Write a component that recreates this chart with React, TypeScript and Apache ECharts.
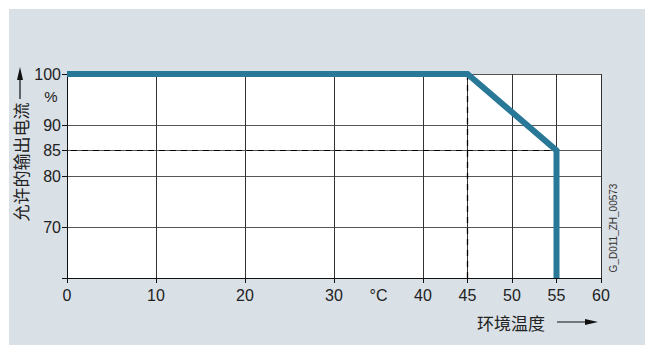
import React, { useEffect, useRef } from "react";
import * as echarts from "echarts";

const curveX = [0, 45, 55, 55];
const curveY = [100, 100, 85, 60];
const xTickValues = [0, 10, 20, 30, 40, 45, 50, 55, 60];
const xLabelValues = [0, 10, 20, 30, 35, 40, 45, 50, 55, 60];
const unitLabelAt = 35;
const yLabelValues = [70, 80, 85, 90, 100];
const yTickValues = [60, 70, 80, 85, 90, 100];
const guideVertical = [[45, 100], [45, 60]];
const guideHorizontal = [[-0.8, 85], [55, 85]];
const yTitle = "允许的输出电流";
const xTitle = "环境温度";
const docId = "G_D011_ZH_00573";

const FONT = "'Liberation Sans', Arial, sans-serif";
const CJK = "'Noto Sans CJK SC', sans-serif";

export default function App() {
  const ref = useRef<HTMLDivElement>(null);
  useEffect(() => {
    const chart = echarts.init(ref.current!, null, { renderer: "svg" });
    chart.setOption({
      animation: false,
      backgroundColor: "#ffffff",
      graphic: [
        { type: "rect", z: -10, shape: { x: 9, y: 9, width: 640, height: 340 }, style: { fill: "#d9e0e6" } },
        { type: "rect", z: -9, shape: { x: 67, y: 74, width: 534, height: 204 }, style: { fill: "#ffffff" } },
        { type: "text", x: 51, y: 96, style: { text: "%", font: `15px ${FONT}`, fill: "#222", textAlign: "center", textVerticalAlign: "middle" } },
        { type: "text", x: 20, y: 162, rotation: Math.PI / 2, style: { text: yTitle, font: `17px ${CJK}`, fill: "#222", textAlign: "center", textVerticalAlign: "middle" } },
        { type: "line", shape: { x1: 20, y1: 99, x2: 20, y2: 76 }, style: { stroke: "#111", lineWidth: 1.2 } },
        { type: "polygon", shape: { points: [[17, 80], [23, 80], [20, 67]] }, style: { fill: "#111" } },
        { type: "text", x: 511, y: 322, style: { text: xTitle, font: `17px ${CJK}`, fill: "#222", textAlign: "center", textVerticalAlign: "middle" } },
        { type: "line", shape: { x1: 557, y1: 322, x2: 590, y2: 322 }, style: { stroke: "#111", lineWidth: 1.2 } },
        { type: "polygon", shape: { points: [[585, 319], [585, 325], [598, 322]] }, style: { fill: "#111" } },
        { type: "text", x: 613, y: 228, rotation: Math.PI / 2, style: { text: docId, font: `10px ${FONT}`, fill: "#333", textAlign: "center", textVerticalAlign: "middle" } },
      ],
      grid: { left: 67, top: 74, width: 534, height: 204, containLabel: false },
      xAxis: {
        type: "value",
        min: 0,
        max: 60,
        interval: 10,
        axisLine: { lineStyle: { color: "#111", width: 1 } },
        axisTick: { show: true, length: 5, customValues: xTickValues, lineStyle: { color: "#111" } },
        axisLabel: {
          customValues: xLabelValues,
          formatter: (v: number) => (v === unitLabelAt ? "°C" : String(v)),
          fontSize: 16,
          fontFamily: FONT,
          color: "#222",
          margin: 9,
        },
        splitLine: { show: true, lineStyle: { color: "#333", width: 1 } },
      },
      yAxis: {
        type: "value",
        min: 60,
        max: 100,
        interval: 10,
        axisLine: { show: true, lineStyle: { color: "#111", width: 1 } },
        axisTick: { show: true, length: 5, customValues: yTickValues, lineStyle: { color: "#111" } },
        axisLabel: {
          customValues: yLabelValues,
          fontSize: 16,
          fontFamily: FONT,
          color: "#222",
          margin: 6,
        },
        splitLine: { show: true, lineStyle: { color: "#555", width: 1 } },
      },
      series: [
        {
          type: "line",
          name: "guideV",
          data: guideVertical,
          symbol: "none",
          clip: false,
          silent: true,
          z: 3,
          lineStyle: { color: "#000", width: 1.3, type: [6, 5] },
        },
        {
          type: "line",
          name: "guideH",
          data: guideHorizontal,
          symbol: "none",
          clip: false,
          silent: true,
          z: 3,
          lineStyle: { color: "#000", width: 1.1, type: [6, 5] },
        },
        {
          type: "line",
          name: "curve",
          data: curveX.map((x, i) => [x, curveY[i]]),
          symbol: "none",
          clip: false,
          lineStyle: { color: "#2a7898", width: 6, join: "miter" },
          z: 5,
        },
      ],
    });
    return () => chart.dispose();
  }, []);
  return (
    <div
      ref={ref}
      style={{ position: "absolute", left: 0, top: 0, width: 645, height: 345 }}
    />
  );
}
